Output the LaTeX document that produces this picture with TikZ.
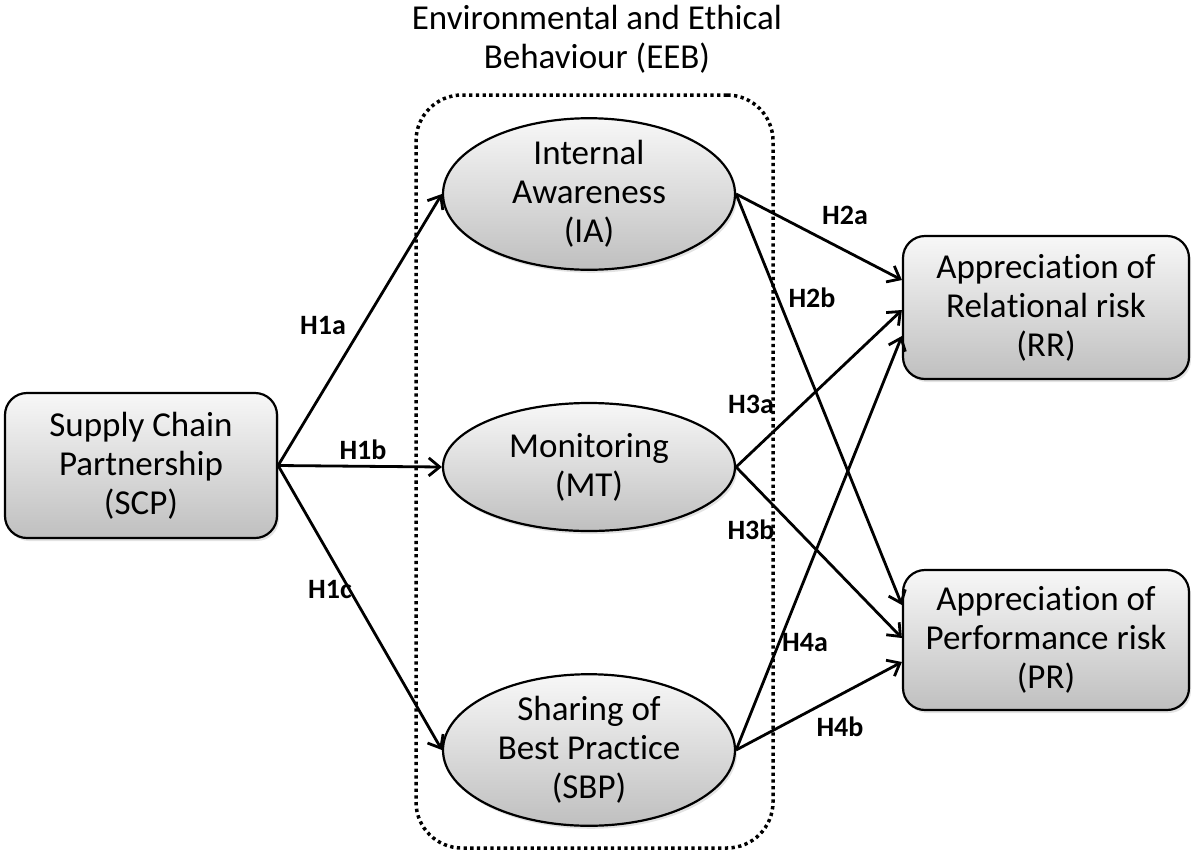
\documentclass[tikz,border=0pt]{standalone}
\usepackage{fontspec}
\setmainfont{Carlito}[Ligatures=NoCommon,RawFeature={-liga;-clig;-dlig}]
\usetikzlibrary{arrows.meta,shapes.geometric,shadows,calc}
\begin{document}
\begin{tikzpicture}[x=1pt,y=-1pt,
  every node/.style={font=\fontsize{35}{39}\selectfont, align=center, text=black},
  shd/.style={drop shadow={opacity=0.22,shadow xshift=2pt,shadow yshift=-3pt}},
  box/.style={shd, draw=black, line width=2.2pt, rounded corners=22pt,
    minimum width=272pt, minimum height=145pt, inner sep=0pt,
    top color=black!3, bottom color=black!25},
  ell/.style={shd, ellipse, draw=black, line width=2.2pt,
    minimum width=292pt, minimum height=128pt, inner sep=0pt,
    top color=black!3, bottom color=black!25},
  lab/.style={font=\fontsize{28}{30}\selectfont\bfseries},
  arr/.style={line width=2.8pt, -{Straight Barb[length=11pt,width=18pt]}},
  eeb/.style={draw=black, line width=3.5pt, dash pattern=on 3.3pt off 3.4pt,
    rounded corners=46pt, minimum width=357pt, minimum height=753pt, inner sep=0pt}]
\useasboundingbox (0,0) rectangle (1192,855);

% title and frame
\node (title) at (597,39) {Environmental and Ethical\\Behaviour (EEB)};
\node[eeb] (frame) at (594.5,471.5) {};

% nodes
\node[box] (scp) at (141,465.5) {Supply Chain\\Partnership\\(SCP)};
\node[ell] (ia) at (589,194) {Internal\\Awareness\\(IA)};
\node[ell] (mt) at (589,467) {Monitoring\\(MT)};
\node[ell] (sbp) at (589,750) {Sharing of\\Best Practice\\(SBP)};
\node[box, minimum width=286pt, minimum height=143pt] (rr) at (1046,307.5) {Apprecia\kern0pt tion of\\Rela\kern0pt tional risk\\(RR)};
\node[box, minimum width=286pt, minimum height=140pt] (pr) at (1046,640) {Apprecia\kern0pt tion of\\Performance risk\\(PR)};

% connectors
\draw[arr] (scp.east) -- (ia.west);
\draw[arr] (scp.east) -- (mt.west);
\draw[arr] (scp.east) -- (sbp.west);
\draw[arr] (ia.east) -- ($(rr.west)+(0,-27.5)$);
\draw[arr] (ia.east) -- ($(pr.west)+(0,-35)$);
\draw[arr] (mt.east) -- ($(rr.west)+(0,2.5)$);
\draw[arr] (mt.east) -- ($(pr.west)+(0,-2)$);
\draw[arr] (sbp.east) -- ($(rr.west)+(0,28.5)$);
\draw[arr] (sbp.east) -- ($(pr.west)+(0,22)$);

% labels
\node[lab] (h1a) at (323,326) {H1a};
\node[lab] (h1b) at (363,450) {H1b};
\node[lab] (h1c) at (330,590) {H1c};
\node[lab] (h2a) at (845,215) {H2a};
\node[lab] (h2b) at (812,298) {H2b};
\node[lab] (h3a) at (751,404) {H3a};
\node[lab] (h3b) at (751,530) {H3b};
\node[lab] (h4a) at (805,643) {H4a};
\node[lab] (h4b) at (840,727) {H4b};
\end{tikzpicture}
\end{document}
